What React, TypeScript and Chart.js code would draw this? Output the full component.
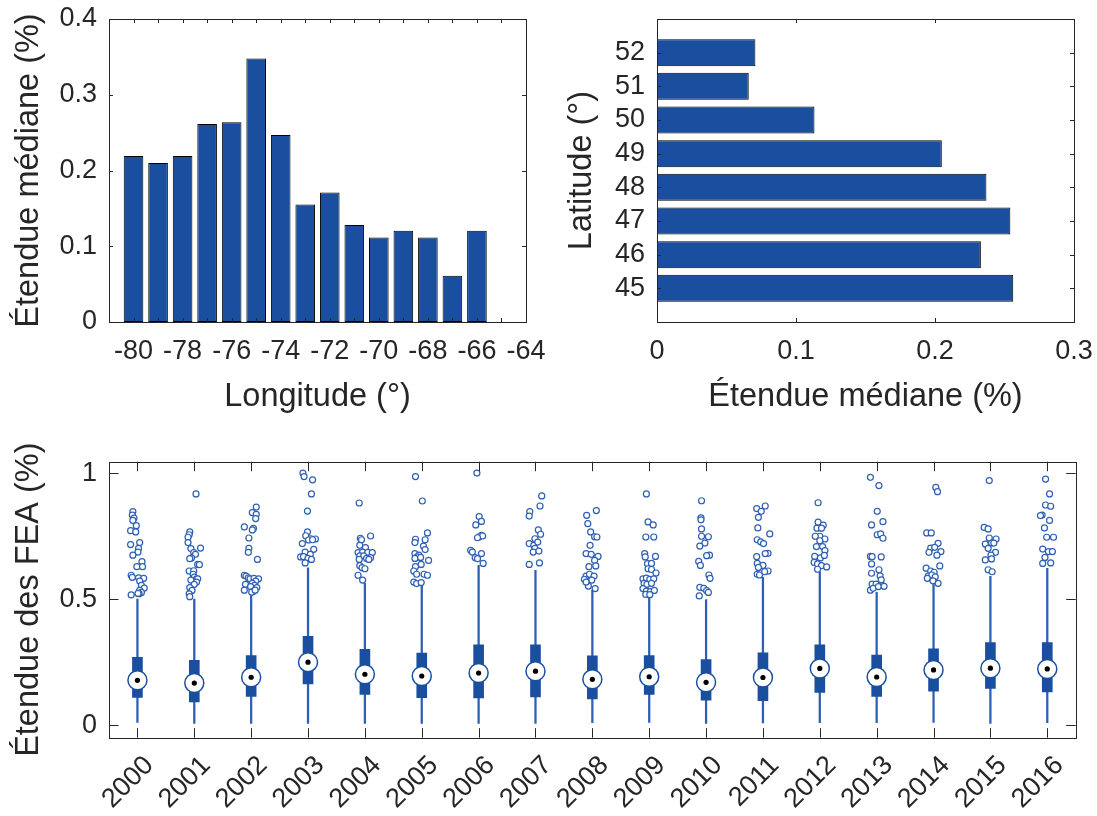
import React, { useEffect, useRef } from 'react';
import { Chart, registerables } from 'chart.js';
Chart.register(...registerables);

// ---------- data: top-left (median range by longitude) ----------
const longitudes = [-80, -79, -78, -77, -76, -75, -74, -73, -72, -71, -70, -69, -68, -67, -66];
const lonMedianRange = [0.219, 0.21, 0.219, 0.2615, 0.2637, 0.348, 0.247, 0.155, 0.171, 0.128, 0.1116, 0.1204, 0.1116, 0.0611, 0.1204];
const lonTicks = [-81, -80, -79, -78, -77, -76, -75, -74, -73, -72, -71, -70, -69, -68, -67, -66, -65, -64];
const lonRangeTicks = [0, 0.1, 0.2, 0.3, 0.4];

// ---------- data: top-right (median range by latitude) ----------
const latitudes = [45, 46, 47, 48, 49, 50, 51, 52];
const latMedianRange = [0.2563, 0.233, 0.2542, 0.237, 0.2049, 0.1133, 0.066, 0.0708];
const latTicks = [45, 46, 47, 48, 49, 50, 51, 52];
const latRangeTicks = [0, 0.1, 0.2, 0.3];

// ---------- data: bottom (box plot per year) ----------
const years = [2000, 2001, 2002, 2003, 2004, 2005, 2006, 2007, 2008, 2009, 2010, 2011, 2012, 2013, 2014, 2015, 2016];
const q1 = [0.11, 0.092, 0.114, 0.164, 0.122, 0.109, 0.108, 0.112, 0.104, 0.122, 0.099, 0.097, 0.13, 0.114, 0.135, 0.146, 0.132];
const q3 = [0.269, 0.257, 0.276, 0.353, 0.301, 0.286, 0.319, 0.319, 0.275, 0.276, 0.26, 0.287, 0.319, 0.278, 0.303, 0.328, 0.328];
const medians = [0.178, 0.167, 0.19, 0.25, 0.202, 0.195, 0.207, 0.214, 0.182, 0.192, 0.17, 0.189, 0.225, 0.191, 0.219, 0.226, 0.223];
const whiskerLow = [0.011, 0.007, 0.007, 0.007, 0.007, 0.007, 0.007, 0.007, 0.01, 0.011, 0.007, 0.009, 0.01, 0.01, 0.011, 0.007, 0.01];
const whiskerHigh = [0.5, 0.5, 0.52, 0.625, 0.563, 0.552, 0.634, 0.615, 0.536, 0.513, 0.498, 0.587, 0.609, 0.527, 0.56, 0.591, 0.623];
const outliers: number[][] = [
  [0.848, 0.834, 0.822, 0.813, 0.792, 0.772, 0.767, 0.717, 0.725, 0.702, 0.687, 0.675, 0.649, 0.629, 0.629, 0.595, 0.587, 0.585, 0.583, 0.572, 0.555, 0.544, 0.535, 0.527, 0.522, 0.523, 0.517],
  [0.918, 0.767, 0.756, 0.746, 0.725, 0.701, 0.703, 0.685, 0.678, 0.664, 0.661, 0.638, 0.637, 0.612, 0.613, 0.599, 0.588, 0.581, 0.576, 0.581, 0.568, 0.559, 0.546, 0.535, 0.521, 0.51],
  [0.866, 0.844, 0.837, 0.82, 0.787, 0.781, 0.775, 0.743, 0.702, 0.686, 0.658, 0.595, 0.592, 0.585, 0.581, 0.583, 0.581, 0.572, 0.559, 0.563, 0.555, 0.55, 0.546, 0.536, 0.53, 0.528, 0.536],
  [1.001, 0.987, 0.974, 0.918, 0.85, 0.767, 0.752, 0.74, 0.739, 0.735, 0.736, 0.721, 0.698, 0.687, 0.678, 0.668, 0.669, 0.662, 0.658, 0.644],
  [0.882, 0.751, 0.742, 0.736, 0.714, 0.705, 0.685, 0.687, 0.686, 0.685, 0.672, 0.672, 0.665, 0.658, 0.662, 0.658, 0.633, 0.625, 0.621, 0.595, 0.576],
  [0.987, 0.89, 0.763, 0.738, 0.736, 0.725, 0.711, 0.697, 0.681, 0.675, 0.668, 0.662, 0.666, 0.654, 0.638, 0.629, 0.612, 0.599, 0.599, 0.568, 0.562, 0.566, 0.595],
  [1.001, 0.828, 0.809, 0.795, 0.754, 0.748, 0.751, 0.744, 0.694, 0.687, 0.665, 0.661, 0.642, 0.681],
  [0.91, 0.87, 0.848, 0.83, 0.775, 0.74, 0.758, 0.721, 0.714, 0.727, 0.702, 0.687, 0.691, 0.638, 0.644],
  [0.852, 0.833, 0.8, 0.767, 0.748, 0.747, 0.714, 0.681, 0.678, 0.67, 0.654, 0.629, 0.632, 0.592, 0.599, 0.592, 0.579, 0.576, 0.552, 0.542, 0.568],
  [0.918, 0.807, 0.795, 0.747, 0.747, 0.681, 0.67, 0.668, 0.641, 0.642, 0.621, 0.618, 0.604, 0.581, 0.584, 0.579, 0.581, 0.563, 0.559, 0.563, 0.542, 0.532, 0.53, 0.535, 0.519, 0.518],
  [0.891, 0.823, 0.815, 0.779, 0.75, 0.748, 0.723, 0.711, 0.675, 0.673, 0.65, 0.634, 0.596, 0.583, 0.547, 0.543, 0.534, 0.527, 0.513],
  [0.87, 0.86, 0.849, 0.825, 0.783, 0.759, 0.736, 0.728, 0.721, 0.682, 0.681, 0.669, 0.642, 0.634, 0.626, 0.612, 0.599, 0.596, 0.609],
  [0.883, 0.806, 0.794, 0.782, 0.782, 0.75, 0.75, 0.739, 0.732, 0.709, 0.709, 0.693, 0.67, 0.664, 0.674, 0.646, 0.64, 0.633, 0.628, 0.619],
  [0.984, 0.951, 0.849, 0.808, 0.795, 0.756, 0.759, 0.742, 0.67, 0.669, 0.668, 0.64, 0.617, 0.603, 0.593, 0.577, 0.56, 0.56, 0.554, 0.536, 0.543, 0.55, 0.551],
  [0.944, 0.927, 0.763, 0.763, 0.722, 0.703, 0.706, 0.689, 0.686, 0.675, 0.632, 0.623, 0.612, 0.607, 0.593, 0.596, 0.589, 0.583, 0.563, 0.573],
  [0.971, 0.785, 0.779, 0.743, 0.739, 0.719, 0.723, 0.723, 0.702, 0.686, 0.675, 0.656, 0.66, 0.617, 0.609],
  [0.977, 0.918, 0.874, 0.869, 0.834, 0.832, 0.813, 0.783, 0.746, 0.746, 0.699, 0.689, 0.689, 0.666, 0.642, 0.644],
];
// horizontal jitter of each outlier, in years
const outlierJitter: number[][] = [
  [-0.08, -0.09, -0.06, -0.08, -0.02, -0.12, -0.03, -0.12, 0.04, 0.02, 0.01, -0.08, 0.08, -0.01, 0.09, -0.11, -0.09, 0.02, 0.11, 0.04, 0.07, 0.12, 0.04, 0.07, 0.03, 0.01, -0.11],
  [0.03, -0.08, -0.09, -0.11, -0.11, -0.06, 0.11, -0.01, 0.02, -0.05, -0.08, 0.06, 0.09, -0.09, -0.01, -0.02, 0, 0.04, -0.06, 0.06, 0.04, 0, -0.08, -0.04, -0.09, -0.08],
  [0.09, 0.02, 0.09, 0.08, -0.12, 0.04, 0.02, -0.04, -0.04, -0.05, 0.11, -0.12, -0.09, -0.05, -0.02, 0.05, 0.13, 0.08, -0.1, 0.02, 0.06, -0.01, 0.1, -0.12, 0.03, 0.01, 0.07],
  [-0.09, -0.07, 0.08, 0.06, -0.01, -0.01, -0.04, 0.05, 0.13, 0.01, 0.08, -0.1, 0.1, -0.05, 0.04, -0.13, -0.08, 0, 0.06, -0.05],
  [-0.1, 0.1, -0.08, -0.06, -0.09, 0.01, -0.12, -0.04, 0.05, 0.13, -0.09, -0.02, 0.1, -0.1, 0.03, 0.07, -0.09, -0.05, 0, -0.12, -0.04],
  [-0.11, 0.01, 0.1, -0.11, 0.06, -0.12, 0.03, 0.06, -0.12, -0.05, -0.08, -0.12, -0.02, 0.12, -0.01, -0.11, -0.14, 0.04, -0.09, -0.14, -0.09, -0.01, 0.1],
  [-0.03, 0.01, 0.05, -0.05, 0.05, 0.01, 0.07, -0.02, -0.14, -0.11, -0.06, -0.02, 0.08, 0.05],
  [0.11, 0.08, -0.1, -0.11, 0.05, -0.01, 0.09, -0.11, -0.03, 0.04, -0.01, -0.04, 0.06, -0.11, 0.07],
  [0.07, -0.1, -0.08, -0.03, 0.04, 0.08, -0.04, -0.11, -0.02, 0.1, 0.04, -0.06, 0.06, -0.11, -0.05, 0.03, -0.14, -0.01, -0.07, 0.05, -0.11],
  [-0.05, -0.02, 0.07, -0.06, 0.08, -0.08, 0.11, -0.07, -0.03, 0.04, -0.02, 0.04, 0.12, -0.11, -0.05, 0.01, 0.08, -0.09, -0.04, 0.04, -0.11, -0.05, 0.02, 0.09, -0.06, 0.01],
  [-0.08, -0.09, -0.09, -0.08, -0.08, 0.04, -0.02, -0.11, 0.06, 0.01, -0.13, -0.1, 0.05, 0.07, -0.11, -0.04, 0.01, 0.04, -0.12],
  [0.04, -0.11, -0.03, -0.08, -0.09, 0.12, -0.1, -0.04, 0.01, 0.09, 0.04, -0.11, -0.1, 0, -0.08, 0.09, -0.1, -0.06, 0.03],
  [-0.03, -0.03, 0.06, -0.05, 0.03, 0, -0.08, 0.09, 0, -0.06, 0.05, 0.09, -0.09, 0.01, 0.08, -0.1, -0.04, 0.03, 0.12, -0.04],
  [-0.11, 0.04, 0.01, 0.11, -0.09, 0.01, 0.07, 0.11, -0.11, -0.08, 0.08, -0.09, 0.04, -0.09, 0.06, 0.08, -0.08, -0.01, 0.1, -0.11, -0.06, 0.03, 0.13],
  [0.04, 0.07, -0.12, -0.04, 0.08, -0.05, 0.02, 0.13, -0.08, 0.06, 0.11, -0.13, -0.05, 0.01, -0.09, -0.03, 0.03, -0.11, 0.08, -0.01],
  [-0.02, -0.11, -0.04, -0.02, 0.1, -0.09, 0.02, 0.06, -0.04, 0.09, 0.01, -0.09, 0.02, -0.04, 0.03],
  [-0.03, 0.04, -0.03, 0.06, -0.09, -0.12, 0.04, -0.05, -0.01, 0.11, -0.08, 0.02, 0.09, -0.04, -0.08, 0.06],
];
const fieldTicks = [0, 0.5, 1];

// ---------- styles ----------
const FONT = '"Liberation Sans", Arial, Helvetica, sans-serif';
const TEXT = '#262626';
const BLUE = '#1a4f9f';
const LINE_BLUE = '#2d5fb3';
const TICK_FONT = { family: FONT, size: 27 };
const TITLE_FONT = { family: FONT, size: 32.5 };

const matlabAxes = {
  id: 'matlabAxes',
  afterDatasetsDraw(chart: any, _args: any, opts: any) {
    const { ctx, chartArea: a, scales } = chart;
    const len = opts.tickLen || 4;
    ctx.save();
    ctx.strokeStyle = TEXT;
    ctx.lineWidth = 1;
    ctx.beginPath();
    const xs = scales.x;
    const ys = scales.y;
    for (const t of xs.ticks) {
      const p = Math.round(xs.getPixelForValue(t.value)) + 0.5;
      ctx.moveTo(p, a.bottom);
      ctx.lineTo(p, a.bottom - len);
      ctx.moveTo(p, a.top);
      ctx.lineTo(p, a.top + len);
    }
    for (const t of ys.ticks) {
      const p = Math.round(ys.getPixelForValue(t.value)) + 0.5;
      ctx.moveTo(a.left, p);
      ctx.lineTo(a.left + len, p);
      ctx.moveTo(a.right, p);
      ctx.lineTo(a.right - len, p);
    }
    ctx.stroke();
    ctx.strokeRect(Math.round(a.left) + 0.5, Math.round(a.top) + 0.5, Math.round(a.right - a.left), Math.round(a.bottom - a.top));
    ctx.restore();
  },
};

const setTicks = (vals: number[]) => (s: any) => {
  s.ticks = vals.map((v) => ({ value: v }));
};

function axisBase(extra: any) {
  return {
    grid: { display: false, drawTicks: false, offset: false },
    border: { display: false },
    offset: false,
    ...extra,
  };
}

// canvases are larger than their panel so that Chart.js's automatic label
// padding never overrides the requested plot-area position
const TOP_SHIFT = 30;

export default function App() {
  const aRef = useRef<HTMLCanvasElement>(null);
  const bRef = useRef<HTMLCanvasElement>(null);
  const cRef = useRef<HTMLCanvasElement>(null);

  useEffect(() => {
    document.body.style.margin = '0';
    const charts: Chart[] = [];

    // ---- top-left ----
    charts.push(
      new Chart(aRef.current!, {
        type: 'bar',
        data: {
          datasets: [
            {
              data: longitudes.map((x, i) => ({ x, y: lonMedianRange[i] })),
              backgroundColor: BLUE,
              borderColor: '#000',
              borderWidth: 1,
              borderSkipped: false,
              barPercentage: 0.8,
              categoryPercentage: 1,
            } as any,
          ],
        },
        options: {
          animation: false,
          responsive: false,
          maintainAspectRatio: false,
          layout: { padding: { top: 19 + TOP_SHIFT, right: 580 - 526, left: 0, bottom: 0 } },
          plugins: { legend: { display: false }, tooltip: { enabled: false }, matlabAxes: { tickLen: 4 } } as any,
          scales: {
            x: axisBase({
              type: 'linear',
              min: -81,
              max: -64,
              afterBuildTicks: setTicks(lonTicks),
              afterFit: (s: any) => { s.height = 98; },
              ticks: {
                autoSkip: false, maxRotation: 0, minRotation: 0, padding: 13,
                font: TICK_FONT, color: TEXT,
                callback: (v: any) => (Math.round(v) % 2 === 0 ? String(v) : ''),
              },
              title: { display: true, text: 'Longitude (°)', font: TITLE_FONT, color: TEXT, padding: { top: 0, bottom: 3 } },
            }),
            y: axisBase({
              type: 'linear',
              min: 0,
              max: 0.4,
              afterBuildTicks: setTicks(lonRangeTicks),
              afterFit: (s: any) => { s.width = 109; },
              ticks: { padding: 12, font: TICK_FONT, color: TEXT, callback: (v: any) => String(v) },
              title: { display: true, text: 'Étendue médiane (%)', font: TITLE_FONT, color: TEXT, padding: { top: 10, bottom: 0 } },
            }),
          },
        } as any,
        plugins: [matlabAxes],
      })
    );

    // ---- top-right ----
    charts.push(
      new Chart(bRef.current!, {
        type: 'bar',
        data: {
          datasets: [
            {
              data: latitudes.map((y, i) => ({ y, x: latMedianRange[i] })),
              backgroundColor: BLUE,
              borderColor: '#000',
              borderWidth: 1,
              borderSkipped: false,
              barPercentage: 0.8,
              categoryPercentage: 1,
            } as any,
          ],
        },
        options: {
          indexAxis: 'y',
          animation: false,
          responsive: false,
          maintainAspectRatio: false,
          layout: { padding: { top: 19 + TOP_SHIFT, right: 580 - 526, left: 0, bottom: 0 } },
          plugins: { legend: { display: false }, tooltip: { enabled: false }, matlabAxes: { tickLen: 4 } } as any,
          scales: {
            x: axisBase({
              type: 'linear',
              min: 0,
              max: 0.3,
              afterBuildTicks: setTicks(latRangeTicks),
              afterFit: (s: any) => { s.height = 98; },
              ticks: { autoSkip: false, maxRotation: 0, minRotation: 0, padding: 13, font: TICK_FONT, color: TEXT, callback: (v: any) => String(v) },
              title: { display: true, text: 'Étendue médiane (%)', font: TITLE_FONT, color: TEXT, padding: { top: 0, bottom: 3 } },
            }),
            y: axisBase({
              type: 'linear',
              min: 44,
              max: 53,
              afterBuildTicks: setTicks(latTicks),
              afterFit: (s: any) => { s.width = 109; },
              ticks: { padding: 12, font: TICK_FONT, color: TEXT, callback: (v: any) => String(v) },
              title: { display: true, text: 'Latitude (°)', font: TITLE_FONT, color: TEXT, padding: { top: 15, bottom: 0 } },
            }),
          },
        } as any,
        plugins: [matlabAxes],
      })
    );

    // ---- bottom: box plot ----
    const outlierPoints: { x: number; y: number }[] = [];
    outliers.forEach((vals, i) => {
      vals.forEach((v, j) => outlierPoints.push({ x: years[i] + outlierJitter[i][j], y: v }));
    });

    charts.push(
      new Chart(cRef.current!, {
        type: 'bar',
        data: {
          datasets: [
            {
              type: 'scatter',
              data: outlierPoints,
              pointRadius: 3,
              pointBackgroundColor: '#fff',
              pointBorderColor: LINE_BLUE,
              pointBorderWidth: 1.2,
              order: 1,
            },
            {
              type: 'scatter',
              data: years.map((x, i) => ({ x, y: medians[i] })),
              pointRadius: 2.6,
              pointBackgroundColor: '#000',
              pointBorderWidth: 0,
              order: 2,
            },
            {
              type: 'scatter',
              data: years.map((x, i) => ({ x, y: medians[i] })),
              pointRadius: 9.5,
              pointBackgroundColor: '#fff',
              pointBorderColor: BLUE,
              pointBorderWidth: 1.5,
              order: 3,
            },
            {
              type: 'bar',
              data: years.map((x, i) => ({ x, y: [q1[i], q3[i]] })),
              backgroundColor: BLUE,
              borderWidth: 0,
              barThickness: 10,
              grouped: false,
              order: 4,
            },
            {
              type: 'bar',
              data: years.map((x, i) => ({ x, y: [whiskerLow[i], whiskerHigh[i]] })),
              backgroundColor: LINE_BLUE,
              borderWidth: 0,
              barThickness: 1.6,
              grouped: false,
              order: 5,
            },
          ] as any,
        },
        options: {
          animation: false,
          responsive: false,
          maintainAspectRatio: false,
          layout: { padding: { top: 41.7, right: 1127 - 1075.7, left: 0, bottom: 0 } },
          plugins: { legend: { display: false }, tooltip: { enabled: false }, matlabAxes: { tickLen: 9.5 } } as any,
          scales: {
            x: axisBase({
              type: 'linear',
              min: 1999.5,
              max: 2016.5,
              afterBuildTicks: setTicks(years),
              afterFit: (s: any) => { s.height = 78.3; },
              ticks: { autoSkip: false, maxRotation: 45, minRotation: 45, padding: 12, labelOffset: 12, font: TICK_FONT, color: TEXT, callback: (v: any) => String(v) },
            }),
            y: axisBase({
              type: 'linear',
              min: -0.05,
              max: 1.046,
              afterBuildTicks: setTicks(fieldTicks),
              afterFit: (s: any) => { s.width = 109; },
              ticks: { padding: 12, font: TICK_FONT, color: TEXT, callback: (v: any) => String(v) },
              title: { display: true, text: 'Étendue des FEA (%)', font: TITLE_FONT, color: TEXT, padding: { top: 10, bottom: 0 } },
            }),
          },
        } as any,
        plugins: [matlabAxes],
      })
    );

    return () => charts.forEach((c) => c.destroy());
  }, []);

  return (
    <div style={{ position: 'relative', width: 1097, height: 816, background: '#fff', overflow: 'hidden' }}>
      <canvas ref={aRef} width={580} height={420 + TOP_SHIFT} style={{ position: 'absolute', left: 0, top: -TOP_SHIFT, width: 580, height: 420 + TOP_SHIFT }} />
      <canvas ref={bRef} width={580} height={420 + TOP_SHIFT} style={{ position: 'absolute', left: 548, top: -TOP_SHIFT, width: 580, height: 420 + TOP_SHIFT }} />
      <canvas ref={cRef} width={1127} height={396} style={{ position: 'absolute', left: 0, top: 420, width: 1127, height: 396 }} />
    </div>
  );
}
